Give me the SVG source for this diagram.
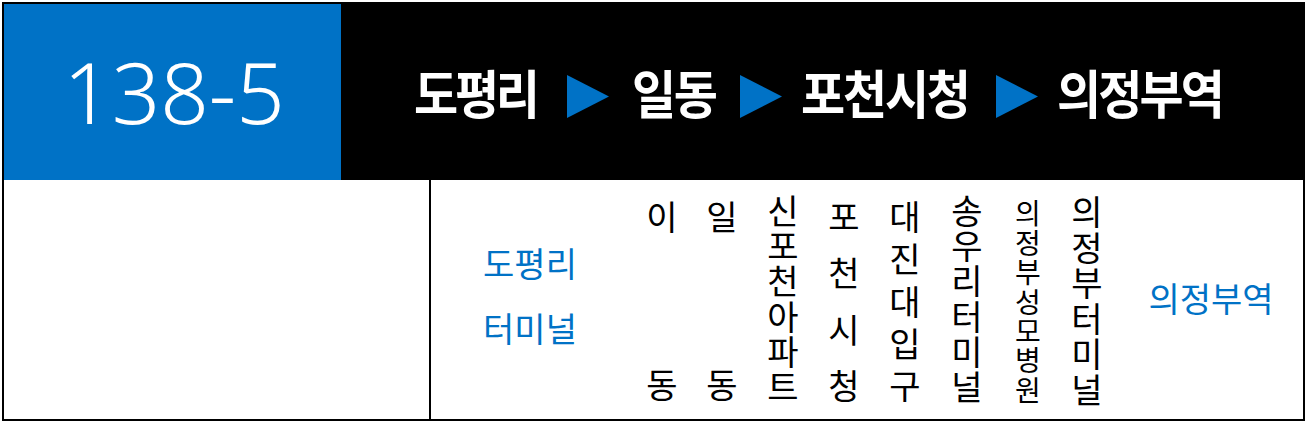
<svg xmlns="http://www.w3.org/2000/svg" width="1307" height="424" viewBox="0 0 1307 424">
<style>
.kr{font-family:"Noto Sans CJK KR","Noto Sans",sans-serif}
.hd{font-size:48px;font-weight:700;fill:#fff}
.st{font-size:34px;fill:#000;text-anchor:middle}
.sm{font-size:28px}
.bl{font-size:34px;fill:#0072C6;text-anchor:middle}
.tri{fill:#0072C6}
</style>
<rect x="0" y="0" width="1307" height="424" fill="#fff"/>
<g id="header">
<rect x="3" y="3" width="1302" height="177" fill="#000"/>
<rect x="3" y="3" width="338" height="177" fill="#0072C6"/>
<text x="174" y="124" text-anchor="middle" font-family="'Noto Sans','Open Sans',sans-serif" font-weight="300" font-size="85" fill="#fff">138-5</text>
</g>
<g id="route">
<g transform="matrix(1,0,0,1.1,0,-11.4)">
<text class="kr hd" x="414" y="114" textLength="126" lengthAdjust="spacing">도평리</text>
<text class="kr hd" x="632" y="114" textLength="86" lengthAdjust="spacing">일동</text>
<text class="kr hd" x="801" y="114" textLength="170" lengthAdjust="spacing">포천시청</text>
<text class="kr hd" x="1057" y="114" textLength="168" lengthAdjust="spacing">의정부역</text>
</g>
<polygon class="tri" points="567,75 609,96.5 567,118"/>
<polygon class="tri" points="740,75 782,96.5 740,118"/>
<polygon class="tri" points="996,75 1038,96.5 996,118"/>
</g>
<g id="frame" fill="none" stroke="#000" stroke-width="2">
<rect x="3" y="3" width="1301" height="417"/>
<line x1="430" y1="180" x2="430" y2="420"/>
</g>
<g id="stop-start">
<text class="kr bl" x="530" y="277">도평리</text>
<text class="kr bl" x="530" y="342">터미널</text>
</g>
<g id="stop-idong" class="kr st">
<text x="662" y="230">이</text><text x="662" y="398">동</text>
</g>
<g id="stop-ildong" class="kr st">
<text x="722" y="230">일</text><text x="722" y="398">동</text>
</g>
<g id="stop-sinpocheon" class="kr st">
<text x="783" y="224">신</text><text x="783" y="259.2">포</text><text x="783" y="294.4">천</text><text x="783" y="329.6">아</text><text x="783" y="364.8">파</text><text x="783" y="400">트</text>
</g>
<g id="stop-pocheon" class="kr st">
<text x="844" y="230">포</text><text x="844" y="286.3">천</text><text x="844" y="342.7">시</text><text x="844" y="399">청</text>
</g>
<g id="stop-daejin" class="kr st">
<text x="905" y="230">대</text><text x="905" y="272.25">진</text><text x="905" y="314.5">대</text><text x="905" y="356.75">입</text><text x="905" y="399">구</text>
</g>
<g id="stop-songu" class="kr st">
<text x="967" y="224">송</text><text x="967" y="259.2">우</text><text x="967" y="294.4">리</text><text x="967" y="329.6">터</text><text x="967" y="364.8">미</text><text x="967" y="400">널</text>
</g>
<g id="stop-hospital" class="kr st sm">
<text x="1028" y="224.4">의</text><text x="1028" y="253.8">정</text><text x="1028" y="283.2">부</text><text x="1028" y="312.6">성</text><text x="1028" y="342">모</text><text x="1028" y="371.4">병</text><text x="1028" y="400.8">원</text>
</g>
<g id="stop-ujb-terminal" class="kr st">
<text x="1087" y="225">의</text><text x="1087" y="260.6">정</text><text x="1087" y="296.2">부</text><text x="1087" y="331.8">터</text><text x="1087" y="367.4">미</text><text x="1087" y="403">널</text>
</g>
<g id="stop-end">
<text class="kr bl" x="1211" y="312">의정부역</text>
</g>
</svg>
